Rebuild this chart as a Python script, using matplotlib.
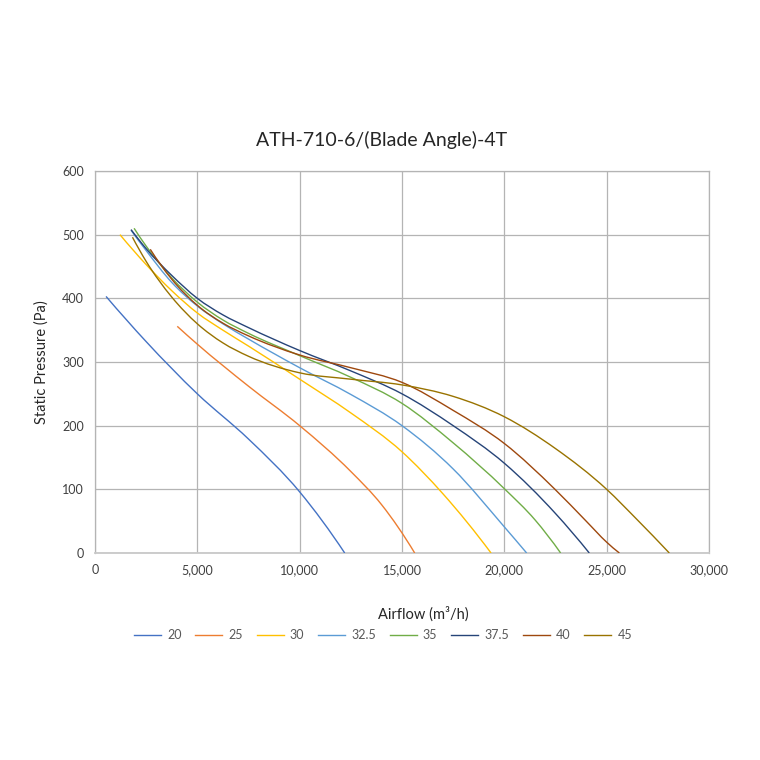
import matplotlib
matplotlib.use("Agg")
import matplotlib.pyplot as plt
import numpy as np
from matplotlib.ticker import FuncFormatter
from matplotlib.path import Path
from matplotlib.patches import PathPatch
from matplotlib.lines import Line2D

plt.rcParams['font.family'] = ['Lato', 'DejaVu Sans']

title = "ATH-710-6/(Blade Angle)-4T"
x_label = "Airflow (m\u00b3/h)"
y_label = "Static Pressure (Pa)"

series_names = ["20", "25", "30", "32.5", "35", "37.5", "40", "45"]
series_colors = ["#4472C4", "#ED7D31", "#FFC000", "#5B9BD5",
                 "#70AD47", "#264478", "#9E480E", "#997300"]

x_20 = [540, 2500, 5000, 7500, 10000, 12200]
y_20 = [403, 332, 250, 179, 96, 0]

x_25 = [4020, 5000, 7500, 10000, 12500, 14000, 15620]
y_25 = [356, 328, 262, 200, 128, 76, 0]

x_30 = [1220, 2500, 3750, 5000, 6250, 7500, 10000, 12500, 15000, 17000, 19350]
y_30 = [500, 453, 412, 377, 350, 325, 273, 220, 159, 93, 0]

x_325 = [1760, 2500, 3750, 5000, 6250, 7500, 10000, 12500, 15000, 17500, 20000, 21090]
y_325 = [507, 475, 425, 388, 360, 336, 291, 249, 200, 132, 41, 0]

x_35 = [1910, 2500, 3750, 5000, 6250, 7500, 10000, 12500, 15000, 17500, 20000, 21500, 22750]
y_35 = [510, 482, 432, 394, 366, 345, 310, 276, 235, 173, 101, 52, 0]

x_375 = [1760, 2500, 3750, 5000, 6250, 7500, 10000, 12500, 15000, 17500, 20000, 22500, 24150]
y_375 = [508, 478, 436, 400, 374, 354, 318, 286, 250, 200, 141, 62, 0]

x_40 = [2700, 3750, 5000, 6250, 7500, 10000, 12500, 15000, 17500, 20000, 22475, 24000, 25000, 25620]
y_40 = [477, 430, 389, 361, 341, 311, 291, 268, 224, 172, 100, 50, 17, 0]

x_45 = [1830, 2500, 3750, 5000, 6250, 7500, 10000, 12500, 15000, 17500, 20000, 22500, 25000, 26500, 28060]
y_45 = [496, 458, 402, 360, 330, 309, 283, 273, 264, 246, 214, 164, 100, 52, 0]

xs = [x_20, x_25, x_30, x_325, x_35, x_375, x_40, x_45]
ys = [y_20, y_25, y_30, y_325, y_35, y_375, y_40, y_45]

x_ticks = [0, 5000, 10000, 15000, 20000, 25000, 30000]
y_ticks = [0, 100, 200, 300, 400, 500, 600]


def smoothed_path(x, y):
    """Smoothed line through the data points (cubic Bezier / Hermite segments)."""
    x = np.asarray(x, float)
    y = np.asarray(y, float)
    n = len(x)
    h = np.diff(x)
    d = np.diff(y) / h
    m = np.empty(n)
    for i in range(1, n - 1):
        m[i] = (d[i - 1] * h[i] + d[i] * h[i - 1]) / (h[i - 1] + h[i])
    m[0] = 2 * d[0] - m[1]
    m[-1] = 2 * d[-1] - m[-2]
    verts = [(x[0], y[0])]
    codes = [Path.MOVETO]
    for i in range(n - 1):
        verts += [(x[i] + h[i] / 3, y[i] + m[i] * h[i] / 3),
                  (x[i + 1] - h[i] / 3, y[i + 1] - m[i + 1] * h[i] / 3),
                  (x[i + 1], y[i + 1])]
        codes += [Path.CURVE4] * 3
    return Path(verts, codes)


fig = plt.figure(figsize=(7.6, 7.6), dpi=100)
ax = fig.add_axes([95/760, 1-553/760, (709-95)/760, (553-171)/760])

handles = []
for xv, yv, name, c in zip(xs, ys, series_names, series_colors):
    patch = PathPatch(smoothed_path(xv, yv), facecolor='none', edgecolor=c,
                      lw=1.0, capstyle='butt', zorder=3)
    ax.add_patch(patch)
    handles.append(Line2D([], [], color=c, lw=1.0, label=name))

ax.set_xlim(0, 30000)
ax.set_ylim(0, 600)
ax.set_xticks(x_ticks)
ax.set_yticks(y_ticks)
ax.xaxis.set_major_formatter(FuncFormatter(lambda v, p: f"{int(v):,}"))
ax.grid(True, color="#B4B4B4", lw=0.9)
ax.set_axisbelow(True)
for s in ax.spines.values():
    s.set_color("#B4B4B4")
    s.set_linewidth(0.9)
ax.spines['bottom'].set_color("#C8C8C8")
ax.spines['bottom'].set_linewidth(1.3)
ax.tick_params(length=0, labelsize=9, labelcolor="#404040", pad=8)

fig.text(382/760, 1-140/760, title, ha='center', va='center', fontsize=14, color="#262626")
fig.text(42/760, 1-362/760, y_label, ha='center', va='center', rotation=90, fontsize=10.5, color="#262626")
fig.text(423/760, 1-614/760, x_label, ha='center', va='center', fontsize=10.5, color="#262626")

leg = fig.legend(handles=handles, loc='center', bbox_to_anchor=(383/760, 1-635/760),
                 ncol=8, frameon=False, fontsize=9, handlelength=2.15,
                 columnspacing=1.1, handletextpad=0.5)
for t in leg.get_texts():
    t.set_color("#595959")

fig.savefig("out.png", dpi=100)
